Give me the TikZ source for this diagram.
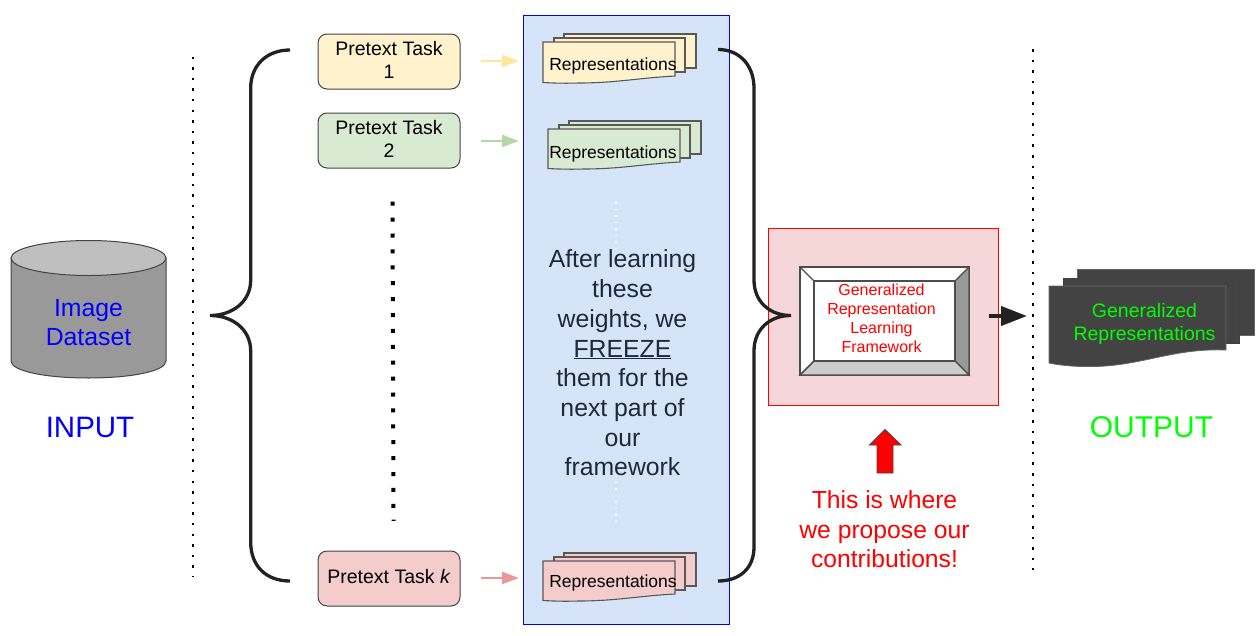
\documentclass[tikz,border=0pt]{standalone}
\usepackage{fontspec}
\setmainfont{Liberation Sans}
\usetikzlibrary{arrows.meta}
\definecolor{taskY}{HTML}{FFF2CC}
\definecolor{taskG}{HTML}{D9EAD3}
\definecolor{taskR}{HTML}{F4CCCC}
\definecolor{panelB}{HTML}{D6E4FA}
\definecolor{panelR}{HTML}{F5D7D9}
\definecolor{bord}{HTML}{444444}
\definecolor{brace}{HTML}{222222}
\definecolor{darkdoc}{HTML}{434343}
\definecolor{arrY}{HTML}{FFE599}
\definecolor{arrG}{HTML}{B6D7A8}
\definecolor{arrR}{HTML}{EA9999}
\definecolor{bodytxt}{HTML}{1F2937}
\definecolor{puregreen}{HTML}{00FF00}
\newcommand{\fsb}[2]{\fontsize{#1}{#2}\selectfont}
\tikzset{
 x=1pt,y=-1pt,
 taskbox/.style={draw=bord,line width=1pt,rounded corners=9pt,minimum width=142pt,minimum height=55pt,align=center,inner sep=0pt,font=\fsb{19.5}{23}},
 docs/.style={draw=black!65,line width=1.1pt},
 bracey/.style={draw=brace,line width=3.3pt},
 dotcol/.style={draw=black,line width=2.5pt,dash pattern=on 2.5pt off 8.1pt},
 thin arrow/.style={line width=2.5pt,-{Triangle[length=17pt,width=12pt]}},
 lbl/.style={inner sep=0pt,align=center},
 repr/.style={lbl,font=\fsb{17.5}{21}},
 bevel/.style={draw=black!70,line width=1.1pt},
}
\newcommand{\docstack}[5]{% x y fill w h : front doc top left
 \begin{scope}[shift={(#1,#2)}]
  \path[docs,fill=#3] (21,-8) rectangle (#4+21,#5-8);
  \path[docs,fill=#3] (11,-4) rectangle (#4+10,#5-4);
  \path[docs,fill=#3] (0,0) -- (#4,0) -- (#4,#5)
     .. controls (#4*0.72,#5+2) and (#4*0.55,#5+7) .. (#4*0.27,#5+7)
     .. controls (#4*0.15,#5+7.5) and (#4*0.07,#5+7) .. (0,#5+6.5) -- cycle;
 \end{scope}}
\begin{document}
\begin{tikzpicture}
\useasboundingbox (0,0) rectangle (1259,635);
% panels
\node[draw=blue,fill=panelB,line width=1pt,minimum width=206pt,minimum height=609pt,inner sep=0pt] (panel) at (626.5,319.5) {};
\node[draw=red,fill=panelR,line width=1pt,minimum width=230pt,minimum height=177pt,inner sep=0pt] (redpanel) at (883.5,316.5) {};
% cylinder
\path[draw=bord,line width=1pt,fill=black!40] (11,258) -- (11,361) .. controls (11,371) and (45,378) .. (88.5,378) .. controls (132,378) and (166,371) .. (166,361) -- (166,258) -- cycle;
\path[draw=bord,line width=1pt,fill=black!25] (88.5,258) ellipse [x radius=77.5,y radius=17.5];
\node[lbl,text=blue,font=\fsb{24.8}{29}] (ds) at (88.5,322.5) {Image\\Dataset};
\node[lbl,text=blue,font=\fsb{29.5}{34}] (input) at (90,427) {INPUT};
% dotted columns
\coordinate (d1a) at (193,56.5); \coordinate (d1b) at (193,576.6);
\draw[dotcol] (d1a) -- (d1b);
\coordinate (d2a) at (1033,49); \coordinate (d2b) at (1033,569.6);
\draw[dotcol] (d2a) -- (d2b);
\coordinate (d3a) at (392.5,201.7); \coordinate (d3b) at (393.5,520.8);
\draw[draw=black,line width=4pt,dash pattern=on 4pt off 11.9pt] (d3a) -- (d3b);
\coordinate (d4a) at (616,202); \coordinate (d4b) at (616,522);
\draw[draw=white!85!panelB,line width=1.2pt,dash pattern=on 1.5pt off 5pt] (d4a) -- (d4b);
% braces
\coordinate (lbT) at (290,50); \coordinate (lbB) at (290,581); \coordinate (lbM) at (210,315.5);
\draw[bracey] (lbT) .. controls (266,50) and (250.7,66) .. (250.7,88) -- (250.7,280) .. controls (250.7,302) and (232,315.5) .. (lbM) .. controls (232,315.5) and (250.7,329) .. (250.7,351) -- (250.7,542) .. controls (250.7,566) and (266,581) .. (lbB);
\coordinate (rbT) at (718,49.5); \coordinate (rbB) at (718,581); \coordinate (rbM) at (791,315.5);
\draw[bracey] (rbT) .. controls (740,49.5) and (754,66) .. (754,88) -- (754,280) .. controls (754,302) and (770,315.5) .. (rbM) .. controls (770,315.5) and (754,329) .. (754,351) -- (754,547) .. controls (754,568) and (740,581) .. (rbB);
% tasks
\node[taskbox,fill=taskY] (t1) at (389,61.5) {\raisebox{2pt}[\height][\depth]{\parbox{130pt}{\centering Pretext Task\\1}}};
\node[taskbox,fill=taskG] (t2) at (389,140.5) {\raisebox{2pt}[\height][\depth]{\parbox{130pt}{\centering Pretext Task\\2}}};
\node[taskbox,fill=taskR] (tk) at (389,578.5) {\raisebox{2pt}[\height][\depth]{Pretext Task \textit{k}}};
% arrows
\coordinate (a1) at (519,61); \coordinate (a2) at (519,141); \coordinate (a3) at (519,578);
\draw[thin arrow,arrY] (481,61) -- (a1);
\draw[thin arrow,arrG] (481,141) -- (a2);
\draw[thin arrow,arrR] (481,578) -- (a3);
% representation stacks
\docstack{543}{42}{taskY}{132}{34}
\node[repr] (r1) at (613,66) {Representations};
\docstack{548}{129}{taskG}{132}{33}
\node[repr] (r2) at (613,154) {Representations};
\docstack{543}{561}{taskR}{132}{33}
\node[repr] (r3) at (613,583) {Representations};
% panel text
\node[lbl,fill=panelB,text=bodytxt,font=\fsb{24.8}{29.7}] (body) at (622.5,363) {After learning\\these\\weights, we\\\underline{FREEZE}\\them for the\\next part of\\our\\framework};
% bevel
\path[bevel,fill=white] (800,267) rectangle (969,375);
\path[bevel,fill=black!40] (969,267) -- (969,375) -- (955,361) -- (955,281) -- cycle;
\path[bevel,fill=black!20] (800,375) -- (969,375) -- (955,361) -- (814,361) -- cycle;
\draw[bevel] (800,267) -- (814,281) (800,375) -- (814,361);
\draw[bevel] (814,281) rectangle (955,361);
\node[lbl,text=red,font=\fsb{16}{19}] (gr) at (881.5,318.5) {Generalized\\Representation\\Learning\\Framework};
% out arrow
\coordinate (o1) at (989,316); \coordinate (o2) at (1027,316);
\draw[line width=4pt,brace,-{Triangle[length=26pt,width=19pt]}] (o1) -- (o2);
% output docs
\begin{scope}[shift={(1049,286)}]
\path[draw=black!60,line width=0.8pt,fill=darkdoc] (28,-17) rectangle (205,49);
\path[draw=black!75,line width=0.8pt,fill=darkdoc] (14,-8) rectangle (190,57);
\path[draw=black!60,line width=0.8pt,fill=darkdoc] (0,0) -- (177,0) -- (177,64) .. controls (125,62) and (95,79) .. (47,80.5) .. controls (28,81) and (12,79.5) .. (0,77) -- cycle;
\end{scope}
\node[lbl,text=puregreen,font=\fsb{19.5}{23}] (genr) at (1144.5,324) {Generalized\\Representations};
\node[lbl,text=puregreen,font=\fsb{30}{34}] (output) at (1151.5,427) {OUTPUT};
% red up arrow
\path[draw=bord,line width=0.9pt,fill=red] (877,473) -- (877,445) -- (869.5,445) -- (885,429.5) -- (901,445) -- (893,445) -- (893,473) -- cycle;
\node[lbl,text=red,font=\fsb{24.7}{29.6}] (prop) at (884.5,529.5) {This is where\\we propose our\\contributions!};
\end{tikzpicture}
\end{document}
